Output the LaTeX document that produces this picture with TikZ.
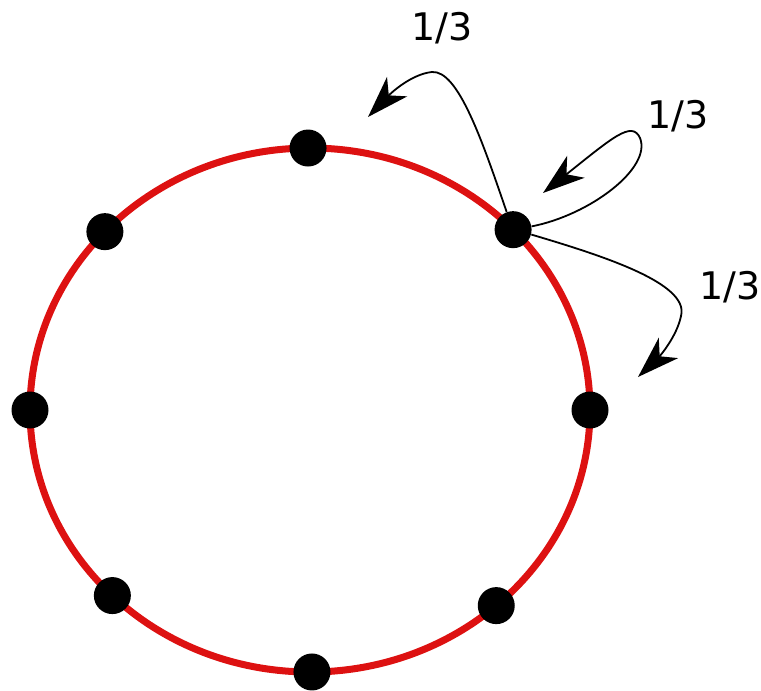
\documentclass[tikz,border=0pt]{standalone}
\usepackage{fontspec}
\setmainfont{DejaVu Sans}
\usetikzlibrary{arrows.meta}
\definecolor{ringred}{RGB}{221,17,17}
\begin{document}
\begin{tikzpicture}[
        x=0.5pt, y=-0.5pt,
        ring/.style={draw=ringred, line width=3.5pt},
        dot/.style={
            circle,
            fill=black,
            minimum size=18.5pt,
            inner sep=0pt
        },
        prob/.style={font=\fontsize{19}{22}\selectfont, inner sep=0pt},
        arrow/.style={-{Stealth[length=21pt, width=14pt, inset=6pt]}, line width=0.9pt}
    ]

    \useasboundingbox (0,0) rectangle (761,691);

    \draw[ring] (310,410) ellipse [x radius=280, y radius=262];

    \node[dot] (d1) at ({310+280*cos(43.5)},{410-262*sin(43.5)}) {};
    \node[dot] (d2) at ({310+280*cos(90.4)},{410-262*sin(90.4)}) {};
    \node[dot] (d3) at ({310+280*cos(137.1)},{410-262*sin(137.1)}) {};
    \node[dot] (d4) at ({310+280*cos(180)},{410-262*sin(180)}) {};
    \node[dot] (d5) at ({310+280*cos(225.1)},{410-262*sin(225.1)}) {};
    \node[dot] (d6) at ({310+280*cos(270.4)},{410-262*sin(270.4)}) {};
    \node[dot] (d7) at ({310+280*cos(311.7)},{410-262*sin(311.7)}) {};
    \node[dot] (d8) at ({310+280*cos(0)},{410-262*sin(0)}) {};

    \coordinate (left) at (368,117);
    \coordinate (stay) at (543,193);
    \coordinate (right) at (638,377);

    \draw[arrow] (d1.110) .. controls (482,140) and (458,70) .. (432,72)
        .. controls (412,74) and (392,92) .. (left);
    \draw[arrow] (d1.10) .. controls (590,215) and (652,168) .. (640,138)
        .. controls (632,120) and (612,138) .. (stay);
    \draw[arrow] (d1.-15) .. controls (600,255) and (690,283) .. (681,316)
        .. controls (677,336) and (660,356) .. (right);

    \node[prob] (p1) at (442,28) {1/3};
    \node[prob] (p2) at (678,116) {1/3};
    \node[prob] (p3) at (730,287) {1/3};

    \end{tikzpicture}
\end{document}
